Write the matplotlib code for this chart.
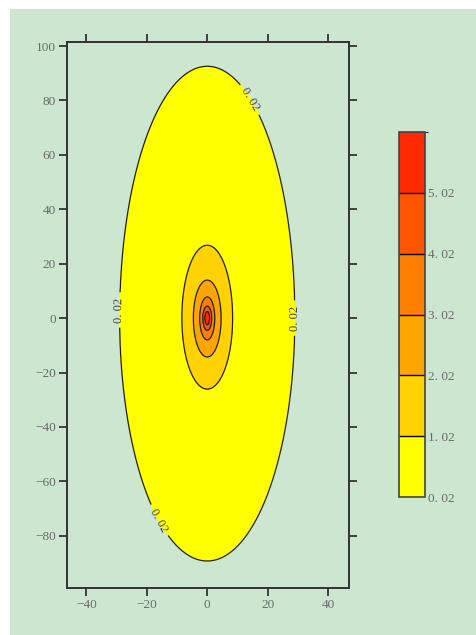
import numpy as np
import matplotlib
matplotlib.use('Agg')
import matplotlib.pyplot as plt
from matplotlib.colors import ListedColormap, BoundaryNorm
from matplotlib.patches import Rectangle

# contour levels and the extents of each closed contour
levels = [0.02, 1.02, 2.02, 3.02, 4.02, 5.02]
top_level = 6.02
peak_value = 5.6
half_width_x = [29.0, 8.4, 4.6, 2.5, 1.5, 0.8]
extent_up = [92.6, 26.8, 14.0, 7.8, 4.4, 2.5]
extent_down = [89.3, 26.1, 14.3, 8.0, 4.5, 2.5]

band_colors = ['#ffff00', '#ffd200', '#ffa500', '#ff8000', '#ff5500', '#ff2a00']

xticks = [-40, -20, 0, 20, 40]
yticks = [-80, -60, -40, -20, 0, 20, 40, 60, 80, 100]

BG = '#cde6d0'
TXT = '#6a6a6a'
plt.rcParams['font.family'] = ['Liberation Serif', 'DejaVu Serif']


def build_field(X, Y):
    lev = np.array(levels)
    ax_ = np.array(half_width_x)[:, None, None]
    up = np.array(extent_up)[:, None, None]
    dn = np.array(extent_down)[:, None, None]
    ay = np.where(Y[None] >= 0, up, dn)
    d = np.sqrt((X[None] / ax_) ** 2 + (Y[None] / ay) ** 2)
    n = (d <= 1).sum(axis=0)
    K = len(lev)
    Z = np.empty_like(X)
    out = n == 0
    Z[out] = lev[0] - (d[0][out] - 1)
    for k in range(1, K):
        m = n == k
        d0 = d[k - 1][m]
        d1 = d[k][m]
        Z[m] = lev[k - 1] + (lev[k] - lev[k - 1]) * (1 - d0) / (d1 - d0)
    m = n == K
    Z[m] = lev[-1] + (peak_value - lev[-1]) * (1 - d[-1][m])
    return Z


def fmt(v):
    return f"{v:.2f}".replace('.', '. ')


x = np.linspace(-47, 47, 601)
y = np.linspace(-100, 102, 901)
X, Y = np.meshgrid(x, y)
Z = build_field(X, Y)

fig = plt.figure(figsize=(4.76, 6.35), dpi=100)
fig.patch.set_facecolor('white')
fig.patches.append(Rectangle((10 / 476, 0), 1, 1 - 9 / 635, transform=fig.transFigure,
                             facecolor=BG, edgecolor='none', zorder=-10))

ax = fig.add_axes([67 / 476, 1 - 588 / 635, 282 / 476, 546 / 635])
ax.set_facecolor('none')

bounds = levels + [top_level]
cmap = ListedColormap(band_colors)
norm = BoundaryNorm(bounds, cmap.N)
cf = ax.contourf(X, Y, Z, levels=bounds, cmap=cmap, norm=norm)
cs = ax.contour(X, Y, Z, levels=levels, colors='#222222', linewidths=0.9)

outer = cs.levels[0]
ax.clabel(cs, levels=[outer], fmt=fmt, fontsize=9, colors='#444444', inline=True,
          manual=[(13.6, 80), (-28.8, 3), (29.1, 0), (-15.5, -74)])

ax.set_xlim(-46.4, 46.9)
ax.set_ylim(-99.2, 101.5)
ax.set_xticks(xticks)
ax.set_yticks(yticks)
for s in ax.spines.values():
    s.set_color('#333333')
    s.set_linewidth(1.4)
ax.tick_params(direction='out', length=6, width=1.3, color='#333333',
               labelcolor=TXT, labelsize=9.5, top=True, right=True, pad=2)

cax = fig.add_axes([399 / 476, 1 - 497 / 635, 26 / 476, 365 / 635])
cb = fig.colorbar(cf, cax=cax, ticks=levels, drawedges=True)
cb.ax.set_yticklabels([fmt(v) for v in levels])
cb.ax.tick_params(length=0, labelcolor=TXT, labelsize=9.5, pad=2)
cb.outline.set_edgecolor('#444444')
cb.outline.set_linewidth(1.2)
cb.dividers.set_color('black')
cb.dividers.set_linewidth(1.0)

fig.savefig('out.png', dpi=100, facecolor=fig.get_facecolor())
